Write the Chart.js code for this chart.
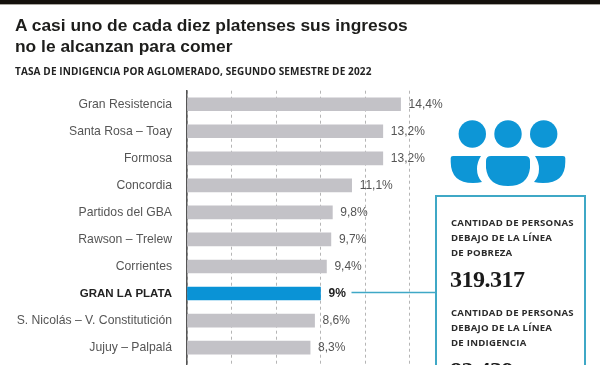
<!DOCTYPE html>
<html lang="es"><head><meta charset="utf-8">
<script src="https://cdn.jsdelivr.net/npm/chart.js@4"></script>
<style>
html,body{margin:0;padding:0;background:#fff;overflow:hidden;height:365px}
#wrap{position:relative;width:600px;height:400px;background:#fff}
#wrap canvas{position:absolute;left:0;top:0}
#band{position:absolute;left:0;top:0;width:600px;height:3.5px;background:#15110c;border-bottom:1px solid #a9a69f}
.t{position:absolute;white-space:nowrap}
#title{left:15px;top:14.500px;font:bold 17.4px/21px "Liberation Sans",sans-serif;color:#1d1d1b}
#sub{left:15px;top:65px;font:bold 10px/13px "Open Sans",sans-serif;color:#222;letter-spacing:.13px}
#box{position:absolute;left:435px;top:195px;width:151px;height:200px;border:2px solid #3fa8c6;box-sizing:border-box}
.h{left:451px;font:bold 9.6px/15.2px "Open Sans",sans-serif;color:#2b2b2b;letter-spacing:.25px}
.n{left:450px;font:bold 24px/26px "Liberation Serif",serif;color:#1a1a1a;letter-spacing:-.5px}
svg{position:absolute;left:448px;top:118px}
</style></head><body>
<div id="wrap">
<canvas id="c" width="600" height="400" style="width:600px;height:400px"></canvas>
<div id="band"></div>
<div class="t" id="title">A casi uno de cada diez platenses sus ingresos<br>no le alcanzan para comer</div>
<div class="t" id="sub">TASA DE INDIGENCIA POR AGLOMERADO, SEGUNDO SEMESTRE DE 2022</div>
<svg width="120" height="70" viewBox="0 0 120 70" fill="#0d96d6">
<circle cx="24.300" cy="16" r="13.700"/><circle cx="60" cy="16" r="13.700"/><circle cx="95.700" cy="16" r="13.700"/>
<path d="M5 38H33Q29 44 29 51Q29 59 34 64Q30 65 25 65Q3 65 2.700 44V40Q2.700 38 5 38Z"/>
<path d="M43 38H77Q82 38 82 43V50Q80 68 60 68Q40 68 38 50V43Q38 38 43 38Z"/>
<path d="M115 38H87Q91 44 91 51Q91 59 86 64Q90 65 95 65Q117.300 65 117.300 44V40Q117.300 38 115 38Z"/>
</svg>
<div id="box"></div>
<div class="t h" style="top:214.500px">CANTIDAD DE PERSONAS<br>DEBAJO DE LA LÍNEA<br>DE POBREZA</div>
<div class="t n" style="top:266px">319.317</div>
<div class="t h" style="top:304.500px">CANTIDAD DE PERSONAS<br>DEBAJO DE LA LÍNEA<br>DE INDIGENCIA</div>
<div class="t n" style="top:357px">82.439</div>
</div>
<script>
const categories = ["Gran Resistencia","Santa Rosa – Toay","Formosa","Concordia","Partidos del GBA","Rawson – Trelew","Corrientes","GRAN LA PLATA","S. Nicolás – V. Constitutición","Jujuy – Palpalá",""];
const values = [14.4,13.2,13.2,11.1,9.8,9.7,9.4,9,8.6,8.3,null];
const valueLabels = ["14,4%","13,2%","13,2%","11,1%","9,8%","9,7%","9,4%","9%","8,6%","8,3%",""];
const highlighted = "GRAN LA PLATA";
const GRAY="#c3c2c7", BLUE="#0a93d6", TEAL="#3fa8c6";
const FONT='"Liberation Sans",Arial,sans-serif';
const PLOT_TOP=90.7, PLOT_HEIGHT=297.5;

const fixPlotHeight = {
  id:"fixPlotHeight",
  afterLayout(chart){
    const {x,y}=chart.scales, a=chart.chartArea;
    a.top=PLOT_TOP; a.height=PLOT_HEIGHT; a.bottom=PLOT_TOP+PLOT_HEIGHT;
    y.top=a.top; y.bottom=a.bottom; y.height=a.height; y.configure();
    x.top=a.bottom; x.bottom=a.bottom; x.configure();
  }
};

const overlay = {
  id:"overlay",
  afterDatasetsDraw(chart){
    const {ctx,scales:{x,y}} = chart;
    ctx.save();
    ctx.textBaseline="middle"; ctx.textAlign="left";
    values.forEach((v,i)=>{
      if(v===null) return;
      const hi = categories[i]===highlighted;
      ctx.font=(hi?"bold ":"")+"12px "+FONT;
      ctx.fillStyle=hi?"#222":"#555";
      ctx.fillText(valueLabels[i],x.getPixelForValue(v)+8,y.getPixelForValue(i));
    });
    const k=categories.indexOf(highlighted);
    const py=Math.round(y.getPixelForValue(k))-1.5;
    ctx.strokeStyle=TEAL; ctx.lineWidth=1.5;
    ctx.beginPath(); ctx.moveTo(x.getPixelForValue(values[k])+31,py); ctx.lineTo(436,py); ctx.stroke();
    ctx.restore();
  }
};

new Chart(document.getElementById("c"),{
  type:"bar",
  plugins:[fixPlotHeight,overlay],
  data:{labels:categories,datasets:[{
    data:values,
    backgroundColor:categories.map(c=>c===highlighted?BLUE:GRAY),
    barThickness:13,
    borderWidth:0
  }]},
  options:{
    indexAxis:"y",responsive:false,animation:false,
    layout:{padding:{top:90,right:190.5,bottom:7.3,left:0}},
    plugins:{legend:{display:false},tooltip:{enabled:false}},
    scales:{
      x:{min:0,max:15,
        afterFit(s){s.height=0;},
        ticks:{display:false,stepSize:3},
        border:{display:false,dash:[3,3]},
        grid:{color:"#b5b5b5",lineWidth:1,drawTicks:false,tickLength:0}
      },
      y:{
        afterFit(s){s.width=187;},
        ticks:{
          autoSkip:false,padding:15,
          color:c=>categories[c.index]===highlighted?"#222":"#555",
          font:c=>({family:FONT,size:categories[c.index]===highlighted?11.5:12.2,weight:categories[c.index]===highlighted?"bold":"normal"})
        },
        border:{color:"#555",width:1.5},
        grid:{display:false,drawTicks:false}
      }
    }
  }
});
</script>
</body></html>
